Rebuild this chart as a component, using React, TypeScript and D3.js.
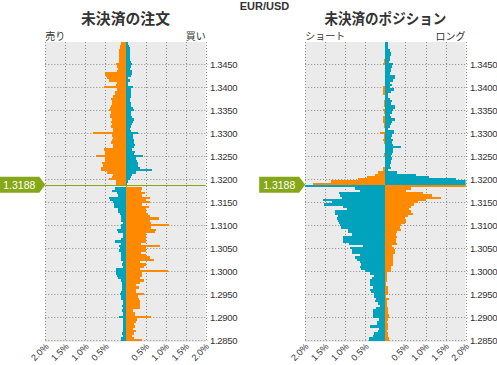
import React from "react";
import * as d3 from "d3";

const PAIR = "EUR/USD";
const CURRENT_PRICE = 1.3188;
const TOP_PRICE = 1.3495;
const STEP = 0.0005;
const Y_TICKS = [1.285, 1.29, 1.295, 1.3, 1.305, 1.31, 1.315, 1.32, 1.325, 1.33, 1.335, 1.34, 1.345];
const X_TICKS = [-2, -1.5, -1, -0.5, 0.5, 1, 1.5, 2];
const X_GRID = [-2, -1.5, -1, -0.5, 0.5, 1, 1.5, 2];

// Open orders (%), rows from top price downward
const ORDER_LEFT = [
  0.11, 0.13, 0.14, 0.15, 0.16, 0.16, 0.16, 0.17, 0.17, 0.24,
  0.22, 0.18, 0.20, 0.50, 0.49, 0.47, 0.40, 0.22, 0.24, 0.54,
  0.22, 0.26, 0.27, 0.30, 0.35, 0.33, 0.33, 0.35, 0.38, 0.40,
  0.35, 0.39, 0.38, 0.33, 0.35, 0.33, 0.36, 0.30, 0.30, 0.81,
  0.34, 0.30, 0.33, 0.36, 0.32, 0.30, 0.54, 0.50, 0.52, 0.74,
  0.51, 0.50, 0.59, 0.56, 0.60, 0.60, 0.47, 0.32, 0.33, 0.40,
  0.24, 0.24, 0.00, 0.26, 0.33, 0.20, 0.18, 0.40, 0.39, 0.30,
  0.28, 0.28, 0.18, 0.18, 0.14, 0.11, 0.11, 0.12, 0.07, 0.11,
  0.10, 0.21, 0.18, 0.07, 0.05, 0.10, 0.26, 0.11, 0.16, 0.14,
  0.16, 0.11, 0.10, 0.10, 0.11, 0.05, 0.08, 0.05, 0.24, 0.24,
  0.24, 0.22, 0.18, 0.11, 0.08, 0.08, 0.08, 0.08, 0.12, 0.14,
  0.10, 0.11, 0.07, 0.07, 0.08, 0.07, 0.08, 0.07, 0.07, 0.16,
  0.05, 0.05, 0.05, 0.05, 0.05, 0.05, 0.08, 0.05, 0.10, 0.11,
];
const ORDER_RIGHT = [
  0.07, 0.09, 0.10, 0.11, 0.11, 0.11, 0.11, 0.11, 0.13, 0.16,
  0.13, 0.11, 0.15, 0.16, 0.14, 0.07, 0.11, 0.07, 0.05, 0.18,
  0.14, 0.14, 0.13, 0.13, 0.11, 0.11, 0.14, 0.13, 0.18, 0.21,
  0.14, 0.13, 0.17, 0.20, 0.18, 0.16, 0.14, 0.11, 0.14, 0.31,
  0.18, 0.19, 0.20, 0.21, 0.24, 0.20, 0.17, 0.24, 0.22, 0.43,
  0.25, 0.28, 0.30, 0.31, 0.36, 0.65, 0.25, 0.15, 0.13, 0.10,
  0.07, 0.03, 0.03, 0.40, 0.38, 0.48, 0.42, 0.62, 0.50, 0.60,
  0.42, 0.58, 0.50, 0.52, 0.55, 0.62, 0.84, 0.61, 0.63, 1.09,
  0.63, 0.76, 0.74, 0.50, 0.50, 0.51, 0.51, 0.39, 0.86, 0.51,
  0.51, 0.39, 0.50, 0.60, 0.71, 0.36, 0.51, 0.46, 0.36, 1.07,
  0.41, 0.41, 0.36, 0.46, 0.36, 0.26, 0.34, 0.26, 0.26, 0.46,
  0.32, 0.34, 0.35, 0.36, 0.36, 0.36, 0.18, 0.24, 0.24, 0.64,
  0.28, 0.25, 0.20, 0.24, 0.18, 0.25, 0.20, 0.16, 0.22, 0.42,
];
// Open positions (%)
const POSITION_LEFT = [
  0, 0, 0, 0, 0, 0, 0, 0.04, 0.04, 0.06,
  0, 0, 0, 0, 0, 0, 0, 0, 0, 0.06,
  0.06, 0.06, 0.06, 0, 0, 0.04, 0.04, 0.04, 0, 0.06,
  0.04, 0, 0.06, 0.06, 0.06, 0.04, 0.04, 0, 0, 0.14,
  0.04, 0.04, 0.06, 0.04, 0, 0, 0, 0, 0.04, 0.04,
  0, 0, 0, 0, 0.06, 0.06, 0.18, 0.25, 0.46, 0.69,
  1.36, 1.81, 2.2, 0.76, 0.64, 1.16, 1.12, 1.08, 1.55, 1.32,
  1.53, 1.05, 0.95, 1.26, 1.26, 1.18, 1.20, 1.18, 1.15, 1.14,
  1.10, 0.94, 0.94, 0.84, 1.06, 1.06, 1.06, 0.91, 0.55, 0.89,
  0.84, 0.84, 0.64, 0.76, 0.71, 0.64, 0.60, 0.64, 0.61, 0.51,
  0.39, 0.29, 0.34, 0.39, 0.39, 0.39, 0.31, 0.39, 0.36, 0.29,
  0.29, 0.24, 0.26, 0.19, 0.14, 0.24, 0.31, 0.31, 0.31, 0.31,
  0.16, 0.21, 0.21, 0.39, 0.16, 0.19, 0.29, 0.31, 0.41, 0.41,
];
const POSITION_RIGHT = [
  0.06, 0.07, 0.06, 0.11, 0.14, 0.14, 0.11, 0.11, 0.08, 0.19,
  0.16, 0.14, 0.14, 0.11, 0.24, 0.24, 0.19, 0.11, 0.16, 0.11,
  0.21, 0.14, 0.06, 0.06, 0.11, 0.16, 0.14, 0.24, 0.24, 0.19,
  0.16, 0.11, 0.14, 0.24, 0.16, 0.14, 0.11, 0.06, 0.21, 0.21,
  0.16, 0.14, 0.19, 0.16, 0.20, 0.39, 0.19, 0.19, 0.16, 0.14,
  0.16, 0.14, 0.14, 0.11, 0.14, 0.06, 0.30, 0.76, 1.09, 1.76,
  2.2, 2.2, 2.2, 0.64, 0.52, 0.95, 1.15, 1.39, 1.00, 0.81,
  0.72, 0.64, 0.58, 0.64, 0.70, 0.57, 0.50, 0.51, 0.48, 0.40,
  0.36, 0.39, 0.30, 0.26, 0.28, 0.26, 0.26, 0.29, 0.16, 0.21,
  0.24, 0.24, 0.18, 0.18, 0.18, 0.19, 0.19, 0.14, 0.14, 0.14,
  0.03, 0.03, 0.04, 0.04, 0.01, 0.01, 0.06, 0.06, 0.06, 0.06,
  0.01, 0.09, 0.04, 0.04, 0.04, 0.06, 0.06, 0.06, 0.09, 0.09,
  0.06, 0.04, 0.06, 0.06, 0.06, 0.04, 0.06, 0.06, 0.09, 0.09,
];

const PRICES = d3.range(ORDER_LEFT.length).map((i) => +(TOP_PRICE - i * STEP).toFixed(4));

const ORANGE = "#ff8a00";
const TEAL = "#00a3bb";
const GREEN = "#86a718";
const PLOT_BG = "#ebebeb";
const GRID = "#8c8c8c";
const TEXT = "#333333";
const NUM_FONT = "'Liberation Sans', Arial, sans-serif";
const JP_FONT = "'Noto Sans CJK JP', sans-serif";

const y = d3.scaleLinear().domain([1.285, 1.345]).range([340.3, 64.3]);
const plotTop = y(1.34985);
const plotBottom = y(1.28465);

type PanelProps = {
  title: string;
  titleWidth: number;
  leftLabel: string;
  rightLabel: string;
  range: [number, number];
  left: number[];
  right: number[];
  lineOnTop: boolean;
  id: string;
};

function Panel({ title, titleWidth, leftLabel, rightLabel, range, left, right, lineOnTop, id }: PanelProps) {
  const x = d3.scaleLinear().domain([-2, 2]).range(range).clamp(true);
  const x0 = x(0);
  const pl = range[0];
  const pr = range[1];
  const cy = y(CURRENT_PRICE);
  const fmt = d3.format(".4f");
  const line = (
    <line x1={pl} x2={pr} y1={Math.round(cy) + 0.5} y2={Math.round(cy) + 0.5} stroke={GREEN} strokeWidth={1} />
  );
  return (
    <g>
      <text x={(pl + pr) / 2 - titleWidth / 2} y={24} fontFamily={JP_FONT} fontWeight="bold" fontSize={14.5} fill={TEXT}
        textLength={titleWidth} lengthAdjust="spacingAndGlyphs">
        {title}
      </text>
      <text x={pl} y={39.5} fontFamily={JP_FONT} fontSize={10} fill={TEXT}>{leftLabel}</text>
      <text x={pr} y={39.5} textAnchor="end" fontFamily={JP_FONT} fontSize={10} fill={TEXT}>{rightLabel}</text>
      <clipPath id={id}>
        <rect x={pl} y={plotTop} width={pr - pl} height={plotBottom - plotTop} />
      </clipPath>
      <rect x={pl} y={plotTop} width={pr - pl} height={plotBottom - plotTop} fill={PLOT_BG} />
      {X_GRID.map((v) => (
        <line key={"v" + v} x1={Math.round(x(v)) + 0.5} x2={Math.round(x(v)) + 0.5} y1={plotTop} y2={plotBottom}
          stroke={GRID} strokeWidth={1} strokeDasharray="1,2" />
      ))}
      {Y_TICKS.map((p) => (
        <line key={"h" + p} x1={pl} x2={pr + 2} y1={Math.round(y(p)) + 0.5} y2={Math.round(y(p)) + 0.5}
          stroke={GRID} strokeWidth={1} strokeDasharray="1,2" />
      ))}
      {!lineOnTop && line}
      <g clipPath={`url(#${id})`} shapeRendering="crispEdges">
        {PRICES.map((p, i) => {
          const above = p > CURRENT_PRICE;
          const yt = y(p + STEP / 2);
          const h = y(p - STEP / 2) - yt;
          const lv = left[i];
          const rv = right[i];
          return (
            <g key={p}>
              {lv > 0 && <rect x={x(-lv)} y={yt} width={x0 - x(-lv)} height={h} fill={above ? ORANGE : TEAL} />}
              {rv > 0 && <rect x={x0} y={yt} width={x(rv) - x0} height={h} fill={above ? TEAL : ORANGE} />}
            </g>
          );
        })}
      </g>
      {lineOnTop && line}
      {Y_TICKS.map((p) => (
        <text key={"t" + p} x={pr + 4.3} y={y(p)} dy="0.35em" fontFamily={NUM_FONT} fontSize={9.5}
          letterSpacing={-0.3} fill={TEXT}>
          {fmt(p)}
        </text>
      ))}
      {X_TICKS.map((v) => (
        <text key={"x" + v} transform={`translate(${x(v) + 4},${347}) rotate(-45)`} textAnchor="end"
          fontFamily={NUM_FONT} fontSize={9} fill={TEXT}>
          {Math.abs(v).toFixed(1) + "%"}
        </text>
      ))}
      <path d={`M${pl - 46},${cy - 8} H${pl - 6} L${pl},${cy} L${pl - 6},${cy + 8} H${pl - 46} Z`} fill={GREEN} />
      <text x={pl - 26} y={cy} dy="0.36em" textAnchor="middle" fontFamily={NUM_FONT} fontSize={10.5} fill="#ffffff">
        {CURRENT_PRICE.toFixed(4)}
      </text>
    </g>
  );
}

export default function App() {
  return (
    <svg width={497} height={365} style={{ position: "absolute", left: 0, top: 0, background: "#fff" }}>
      <text x={264.5} y={9.5} textAnchor="middle" fontFamily={NUM_FONT} fontWeight="bold" fontSize={11} fill={TEXT}>
        {PAIR}
      </text>
      <Panel id="c1" title="未決済の注文" titleWidth={89} leftLabel="売り" rightLabel="買い" range={[45.3, 205.7]}
        left={ORDER_LEFT} right={ORDER_RIGHT} lineOnTop={true} />
      <Panel id="c2" title="未決済のポジション" titleWidth={122} leftLabel="ショート" rightLabel="ロング" range={[305.2, 465.6]}
        left={POSITION_LEFT} right={POSITION_RIGHT} lineOnTop={false} />
    </svg>
  );
}
